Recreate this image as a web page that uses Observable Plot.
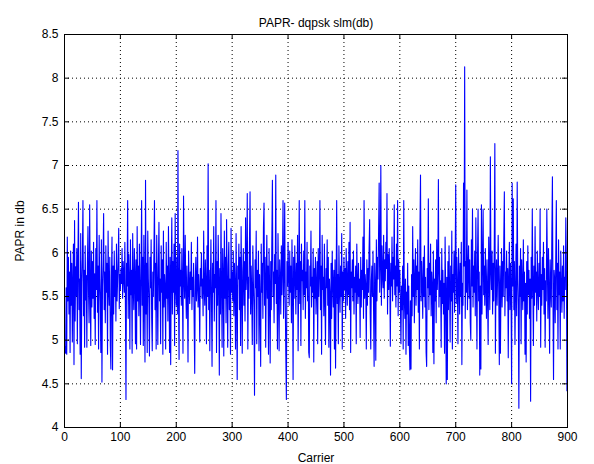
<!DOCTYPE html>
<html><head><meta charset="utf-8">
<script src="https://cdn.jsdelivr.net/npm/d3@7"></script>
<script src="https://cdn.jsdelivr.net/npm/@observablehq/plot@0.6"></script>
<style>body{margin:0;background:#fff}</style>
</head><body><div id="chart"></div>
<script>
// PAPR (dB) per carrier 1..900
const papr = [
4.92,4.85,5.60,4.84,6.18,5.45,5.95,5.30,5.78,4.86,
6.02,5.40,5.88,4.98,5.65,6.10,4.72,6.37,5.22,5.84,
5.51,6.05,4.96,5.92,6.58,5.35,5.70,4.84,6.22,4.56,
5.66,5.95,6.60,5.28,5.80,4.92,6.08,5.46,5.74,4.92,
5.88,6.30,5.55,5.20,6.55,5.62,4.94,6.02,5.38,5.90,
5.48,6.12,5.25,5.76,4.95,6.05,5.58,6.60,5.32,5.85,
4.90,6.20,5.70,5.42,4.86,6.15,4.52,5.62,5.90,6.45,
5.35,5.78,5.20,6.08,5.55,5.88,4.84,6.25,5.60,5.40,
5.95,4.94,4.67,5.72,6.18,4.66,5.85,5.30,6.02,5.50,
5.80,5.22,6.10,5.45,5.68,5.92,6.28,5.36,5.75,5.58,
5.82,5.65,6.05,5.48,5.90,5.72,5.55,6.12,5.40,4.32,
5.88,5.62,6.60,5.25,5.98,5.70,4.90,6.15,5.52,5.80,
4.85,6.22,5.60,5.35,6.05,5.75,4.96,5.92,4.90,6.30,
5.45,5.85,5.28,6.10,5.62,4.95,5.80,6.60,5.40,5.95,
4.94,6.20,5.55,4.75,6.83,5.30,5.88,4.86,6.25,5.70,
5.42,4.82,5.95,5.60,6.15,5.25,4.88,5.78,5.50,6.02,
6.60,5.35,5.88,4.90,6.20,5.65,4.95,5.82,6.35,5.45,
5.70,4.96,6.08,5.55,5.92,4.84,6.25,5.38,5.75,5.60,
4.90,6.12,5.48,5.85,5.22,6.30,5.68,4.86,5.95,4.72,
5.80,6.40,5.30,5.90,5.55,6.10,4.94,6.45,5.62,5.40,
5.95,5.30,7.17,5.45,4.78,6.10,5.62,5.80,5.40,6.05,
5.55,4.85,6.65,5.70,5.48,6.20,5.60,5.25,5.85,5.52,
4.75,6.02,5.65,5.42,5.78,5.58,6.12,5.35,5.72,5.50,
5.88,5.20,4.62,5.68,5.95,5.45,5.60,6.18,5.38,5.75,
5.55,4.98,5.82,5.62,6.00,5.48,5.70,5.28,6.25,5.58,
5.40,5.92,5.65,4.96,6.08,5.50,7.02,5.35,5.80,4.88,
5.62,6.15,5.45,4.70,5.88,5.55,6.30,5.22,5.75,5.60,
6.60,4.86,5.90,5.40,6.20,5.68,4.60,5.82,5.30,6.45,
5.58,4.92,6.05,5.72,4.82,6.25,5.48,5.95,5.20,6.38,
5.65,4.92,5.85,6.12,5.35,5.70,4.84,6.28,5.55,5.78,
5.45,6.02,5.28,5.88,5.60,4.90,6.22,5.50,4.55,5.85,
5.70,6.10,5.35,5.95,4.94,6.30,5.62,4.85,5.78,6.05,
5.40,5.90,5.22,6.40,5.58,5.80,6.68,4.90,5.72,5.48,
6.15,6.70,5.30,5.85,5.55,4.95,6.08,5.65,5.38,4.37,
5.92,5.60,6.25,4.96,5.80,5.50,6.02,4.88,5.75,5.42,
4.70,6.10,5.55,5.88,5.25,6.30,6.57,5.40,5.95,4.92,
5.68,6.20,5.48,5.85,4.84,6.05,5.60,4.74,5.90,5.35,
6.15,6.83,5.50,5.78,5.20,5.98,5.65,6.89,5.42,5.80,
4.90,6.22,5.58,4.88,5.92,5.70,5.30,6.08,5.52,5.85,
6.60,5.25,5.75,6.57,5.45,4.84,4.32,5.90,5.62,6.12,
5.70,5.40,6.02,5.55,5.85,5.20,6.15,5.62,4.55,5.95,
5.48,6.08,5.72,5.30,5.88,5.58,6.20,4.88,5.65,6.60,
5.42,5.90,4.94,6.10,5.68,5.80,5.35,6.02,5.52,6.60,
5.25,5.78,5.60,6.12,5.45,5.92,4.86,4.80,5.85,5.62,
6.25,5.38,5.72,5.55,6.05,4.75,5.82,5.48,5.95,5.30,
5.62,5.90,4.96,6.05,5.50,5.78,6.60,5.35,5.85,4.84,
6.20,5.58,5.72,5.28,6.10,5.45,4.95,5.82,5.60,6.15,
5.40,5.95,4.92,5.70,5.52,4.60,5.88,5.25,6.02,5.65,
5.38,5.80,4.90,5.92,4.68,5.55,6.60,5.42,5.75,4.96,
6.08,5.62,5.32,5.85,5.50,6.22,4.90,5.78,5.45,5.95,
5.58,5.82,5.25,6.05,5.68,5.40,5.90,5.52,6.12,5.35,
6.35,4.86,5.78,5.60,5.92,5.45,6.02,5.30,5.72,5.55,
5.85,4.96,6.10,5.62,5.42,5.88,5.50,5.70,5.03,5.95,
5.38,5.80,5.58,6.18,5.25,6.60,5.48,5.75,5.62,4.90,
5.92,5.40,5.82,5.55,6.05,6.38,5.30,4.90,5.68,5.85,
5.50,6.02,5.35,4.70,5.88,5.62,4.77,6.15,5.45,5.95,
5.70,6.25,6.80,5.55,5.90,7.00,5.40,6.08,5.75,5.60,
6.20,5.48,5.92,5.68,6.12,5.82,6.68,5.30,5.98,5.58,
6.05,5.75,4.93,5.88,5.62,6.18,5.45,5.95,5.70,6.55,
5.52,5.85,5.38,6.10,5.62,6.60,5.28,5.92,5.55,5.80,
5.40,4.96,5.62,5.35,5.85,4.90,6.60,5.48,5.25,5.70,
4.84,5.55,5.30,5.88,4.94,5.62,4.95,4.66,5.45,4.67,
5.75,5.28,6.30,5.50,5.92,5.20,5.68,6.05,5.40,5.85,
5.58,6.15,5.32,5.78,4.90,6.25,6.89,5.45,5.90,5.62,
5.25,5.95,5.50,6.08,5.38,5.72,4.86,4.70,5.82,5.60,
6.62,5.35,5.88,5.52,6.10,5.28,5.78,5.62,4.86,6.02,
4.73,5.70,5.45,5.92,5.20,6.15,5.58,5.82,6.84,5.38,
5.95,5.50,5.68,4.92,6.05,5.42,5.80,5.30,5.65,4.85,
6.18,5.55,4.50,5.72,4.55,5.90,5.35,6.08,5.60,4.98,
5.85,5.45,6.25,4.90,5.75,5.55,6.02,5.32,5.88,6.78,
5.42,5.95,5.60,4.96,6.05,5.72,5.30,5.88,5.50,6.12,
4.72,5.65,5.40,6.80,5.85,8.13,5.25,5.90,5.55,6.72,
5.35,5.78,6.08,5.48,5.92,5.20,5.00,6.15,5.62,6.50,
5.38,5.85,5.55,6.02,5.28,6.40,5.70,4.90,5.95,6.50,
5.45,5.78,4.60,5.62,4.67,6.55,5.30,5.88,6.50,5.52,
5.85,5.40,6.05,5.62,5.25,5.92,5.50,4.95,6.18,5.72,
5.35,7.10,5.80,5.58,6.02,5.30,5.88,5.45,6.10,7.25,
4.85,5.68,5.92,5.40,5.75,6.20,5.55,4.72,5.85,4.85,
5.62,6.05,5.38,5.90,5.50,6.15,6.70,5.28,5.78,5.60,
6.02,5.45,5.82,4.80,5.70,6.12,5.35,5.88,5.52,4.50,
6.80,5.62,6.62,5.35,5.90,4.95,5.55,6.10,5.28,6.81,
5.70,5.40,4.22,5.85,5.50,6.05,4.96,5.92,5.60,5.35,
6.15,5.45,5.78,4.84,5.65,4.75,5.90,5.30,6.08,5.52,
5.80,5.25,5.70,4.30,5.95,5.48,6.50,5.62,4.94,5.85,
5.40,6.30,5.55,5.78,5.22,6.02,5.60,5.35,5.88,5.50,
6.50,4.92,5.75,5.40,5.95,5.58,6.12,5.30,5.82,4.92,
5.68,5.45,6.50,5.85,5.25,6.05,5.55,4.85,5.92,5.62,
5.38,6.20,6.87,5.48,4.55,5.80,5.70,5.20,5.95,6.60,
5.35,5.88,4.90,6.15,5.52,5.78,4.90,6.02,5.60,5.32,
5.85,5.45,6.08,5.25,5.72,5.58,6.40,5.90,4.42,5.65
];
const xTicks = [0,100,200,300,400,500,600,700,800,900];
const yTicks = [4,4.5,5,5.5,6,6.5,7,7.5,8,8.5];
const title = "PAPR- dqpsk slm(db)";
const xLabel = "Carrier";
const yLabel = "PAPR in db";

const W = 594, H = 464, mL = 64, mR = 27, mT = 34, mB = 37;
const pw = W - mL - mR, ph = H - mT - mB;
const dot = {stroke: "#000", strokeOpacity: 1, strokeDasharray: "1,3", strokeWidth: 1};

const chart = Plot.plot({
  width: W, height: H,
  marginLeft: mL, marginRight: mR, marginTop: mT, marginBottom: mB,
  style: {fontFamily: "'Liberation Sans', Arial, Helvetica, sans-serif", fontSize: "12px", background: "#fff", color: "#000"},
  x: {domain: [0, 900]},
  y: {domain: [4, 8.5]},
  marks: [
    Plot.gridX(xTicks.slice(1, -1), dot),
    Plot.gridY(yTicks.slice(1, -1), dot),
    Plot.lineY(papr, {x: (d, i) => i + 1, y: d => d, stroke: "#0000ff", strokeWidth: 1.1}),
    Plot.frame({stroke: "#000"}),
    Plot.tickX(xTicks, {x: d => d, stroke: "#000", insetTop: ph - 5}),
    Plot.tickX(xTicks, {x: d => d, stroke: "#000", insetBottom: ph - 5}),
    Plot.tickY(yTicks, {y: d => d, stroke: "#000", insetRight: pw - 5}),
    Plot.tickY(yTicks, {y: d => d, stroke: "#000", insetLeft: pw - 5}),
    Plot.axisX(xTicks, {tickSize: 0, tickPadding: 5, tickFormat: d => String(d), label: xLabel, labelAnchor: "center", labelOffset: 34, labelArrow: "none"}),
    Plot.axisY(yTicks, {tickSize: 0, tickPadding: 6, tickFormat: d => String(d), label: yLabel, labelAnchor: "center", labelOffset: 49, labelArrow: "none"}),
    Plot.text([title], {text: d => d, frameAnchor: "top", dy: -16, fontSize: 12})
  ]
});
document.getElementById("chart").appendChild(chart);
</script>
</body></html>
